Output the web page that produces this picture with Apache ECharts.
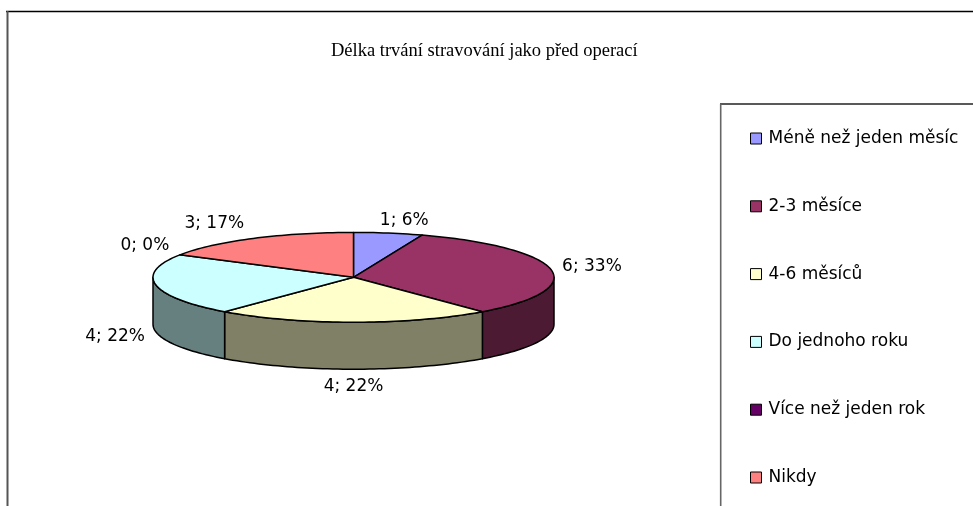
<!DOCTYPE html>
<html><head><meta charset="utf-8">
<style>html,body{margin:0;padding:0;background:#fff}#c{width:973px;height:506px}</style>
<script src="https://cdn.jsdelivr.net/npm/echarts@6/dist/echarts.min.js"></script>
</head><body><div id="c"></div>
<script>
const titleText = 'Délka trvání stravování jako před operací';
const categories = ['Méně než jeden měsíc','2-3 měsíce','4-6 měsíců','Do jednoho roku','Více než jeden rok','Nikdy'];
const values = [1,6,4,4,0,3];
const percents = [6,33,22,22,0,17];
const topColors = ['#9999FF','#993366','#FFFFCC','#CCFFFF','#660066','#FF8080'];
const sideColors = ['#4D4D80','#4D1A33','#808066','#668080','#330033','#804040'];
const labelOffsets = [[16,-12.5],[41,-2.5],[0,64],[-41,51],[-35,-9.5],[-39,-14.5]];

const CX=353.5, CY=277.3, RX=200.5, RY=44.9, DEPTH=47;
const total = values.reduce((a,b)=>a+b,0);
const starts = values.map((_,i)=>values.slice(0,i).reduce((a,b)=>a+b,0)/total*360);
const pt=(deg,dy)=>{const r=deg*Math.PI/180;return [CX+RX*Math.sin(r),CY-RY*Math.cos(r)+(dy||0)];};
const arc=(a,b,dy)=>{const n=Math.max(1,Math.ceil(Math.abs(b-a)/1.5)),o=[];for(let k=0;k<=n;k++)o.push(pt(a+(b-a)*k/n,dy));return o;};

function render(i){
  return function(params,api){
    const a=starts[i], b=a+api.value(0)/total*360, mid=(a+b)/2, kids=[];
    const line={stroke:'#000',lineWidth:1.5,lineJoin:'round'};
    const sa=Math.max(a,90), sb=Math.min(b,270);
    if(sb>sa){
      const front=arc(sa,sb,0), back=arc(sb,sa,DEPTH);
      kids.push({type:'polygon',z2:1,shape:{points:front.concat(back)},style:Object.assign({fill:sideColors[i]},line)});
    }
    if(b>a){
      kids.push({type:'polygon',z2:5,shape:{points:[[CX,CY]].concat(arc(a,b,0))},style:Object.assign({fill:topColors[i]},line)});
    }
    const p=pt(mid,0), off=labelOffsets[i];
    kids.push({type:'text',z2:9,x:p[0]+off[0],y:p[1]+off[1],style:{
      text:api.value(0)+'; '+percents[i]+'%',fill:'#000',font:'17px "DejaVu Sans"',align:'center',verticalAlign:'middle'}});
    return {type:'group',children:kids};
  };
}

const chart=echarts.init(document.getElementById('c'),null,{renderer:'canvas'});
chart.setOption({
  animation:false,
  backgroundColor:'#fff',
  title:{text:titleText,left:326,top:37,textStyle:{fontFamily:'Liberation Serif',fontSize:18.5,fontWeight:'normal',color:'#000'}},
  legend:{orient:'vertical',left:750,top:130,padding:0,itemWidth:11,itemHeight:11,itemGap:50.8,icon:'rect',
    data:categories,selectedMode:false,
    itemStyle:{borderColor:'#000',borderWidth:1},
    textStyle:{fontFamily:'DejaVu Sans',fontSize:17,color:'#000',padding:[0,0,0,2]}},
  graphic:[
    {type:'line',silent:true,shape:{x1:6,y1:11.5,x2:973,y2:11.5},style:{stroke:'#000',lineWidth:1.6}},
    {type:'line',silent:true,shape:{x1:7.5,y1:11,x2:7.5,y2:506},style:{stroke:'#555',lineWidth:2}},
    {type:'line',silent:true,shape:{x1:720,y1:104,x2:973,y2:104},style:{stroke:'#222',lineWidth:1.5}},
    {type:'line',silent:true,shape:{x1:720.7,y1:104,x2:720.7,y2:506},style:{stroke:'#666',lineWidth:1.6}}
  ],
  series:categories.map((name,i)=>({
    type:'custom',name,coordinateSystem:'none',silent:true,
    itemStyle:{color:topColors[i]},
    data:[[values[i]]],
    renderItem:render(i)
  }))
});
</script></body></html>
